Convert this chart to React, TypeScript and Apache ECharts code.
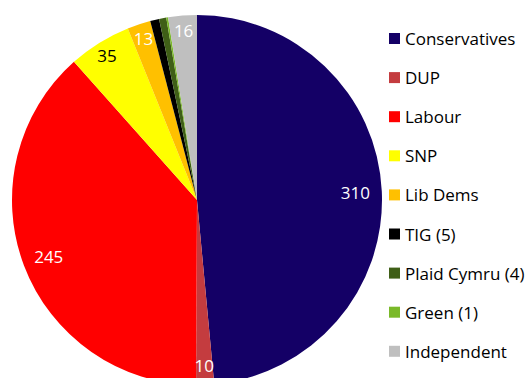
import React, { useEffect, useRef } from "react";
import * as echarts from "echarts";

const parties = [
  "Conservatives",
  "DUP",
  "Labour",
  "SNP",
  "Lib Dems",
  "TIG (5)",
  "Plaid Cymru (4)",
  "Green (1)",
  "Independent",
];
const seats = [310, 10, 245, 35, 13, 5, 4, 1, 16];
const colors = [
  "#140066",
  "#C43C3F",
  "#FF0000",
  "#FFFF00",
  "#FFC000",
  "#000000",
  "#3F5F17",
  "#7AB929",
  "#BFBFBF",
];
// which labels are shown on each label ring (inner / middle / outer)
const labelInner = [true, false, true, false, false, false, false, false, false];
const labelMiddle = [false, true, false, false, false, false, false, false, false];
const labelOuter = [false, false, false, true, true, false, false, false, true];
const labelColors = ["#fff", "#fff", "#fff", "#000", "#fff", "#fff", "#fff", "#fff", "#fff"];

const FONT = "'Segoe UI', 'Open Sans', 'Noto Sans', sans-serif";

export default function App() {
  const ref = useRef<HTMLDivElement>(null);
  useEffect(() => {
    if (!ref.current) return;
    const chart = echarts.init(ref.current, null, { renderer: "svg" });
    const mainData = parties.map((name, i) => ({
      name,
      value: seats[i],
      itemStyle: { color: colors[i] },
    }));
    const makeLabelData = (show: boolean[]) =>
      parties.map((name, i) => ({
        name,
        value: seats[i],
        itemStyle: { color: "rgba(0,0,0,0)" },
        label: { show: show[i], color: labelColors[i] },
      }));
    const labelSeries = (radius: number[], show: boolean[]) => ({
      type: "pie",
      center: [197, 200],
      radius,
      startAngle: 90,
      clockwise: true,
      silent: true,
      avoidLabelOverlap: false,
      legendHoverLink: false,
      label: {
        show: true,
        position: "inside",
        formatter: "{c}",
        fontFamily: FONT,
        fontSize: 17,
      },
      labelLine: { show: false },
      emphasis: { disabled: true },
      data: makeLabelData(show),
    });
    chart.setOption({
      animation: false,
      legend: {
        orient: "vertical",
        left: 389,
        top: 30,
        padding: 0,
        itemWidth: 11,
        itemHeight: 11,
        itemGap: 22.1,
        icon: "rect",
        data: parties,
        textStyle: {
          fontFamily: FONT,
          fontSize: 17,
          lineHeight: 16,
          color: "#000",
        },
        selectedMode: false,
      },
      series: [
        {
          type: "pie",
          center: [197, 200],
          radius: [0, 185],
          startAngle: 90,
          clockwise: true,
          label: { show: false },
          labelLine: { show: false },
          emphasis: { disabled: true },
          data: mainData,
        },
        labelSeries([126, 185], labelInner),
        labelSeries([140, 185], labelMiddle),
        labelSeries([150, 185], labelOuter),
      ],
    });
    return () => chart.dispose();
  }, []);
  return (
    <div
      ref={ref}
      style={{ position: "absolute", left: 0, top: 0, width: 531, height: 378 }}
    />
  );
}
